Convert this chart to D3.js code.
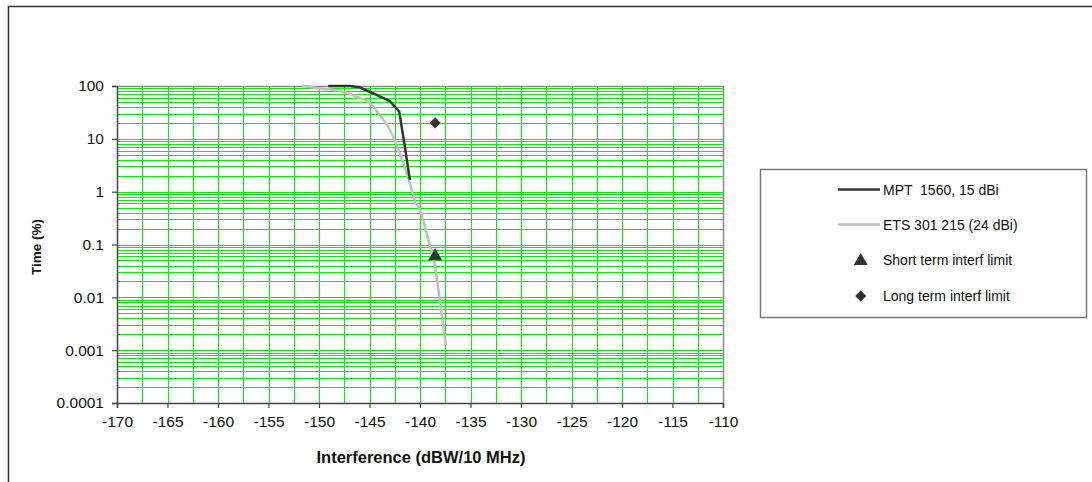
<!DOCTYPE html>
<html><head><meta charset="utf-8">
<script src="https://cdn.jsdelivr.net/npm/d3@7"></script>
<style>body{margin:0;background:#fff}svg{display:block;font-family:"Liberation Sans",Arial,sans-serif}</style>
</head><body>
<svg id="c" width="1092" height="482"></svg>
<script>
// ---- data ----
const xTicks = [-170,-165,-160,-155,-150,-145,-140,-135,-130,-125,-120,-115,-110];
const yTicks = [100,10,1,0.1,0.01,0.001,0.0001];
const yTickLabels = ["100","10","1","0.1","0.01","0.001","0.0001"];
const seriesNames = ["MPT  1560, 15 dBi","ETS 301 215 (24 dBi)","Short term interf limit","Long term interf limit"];
const mptX = [-149.1,-146.9,-146.0,-144.3,-143.0,-142.05,-141.5,-141.0];
const mptY = [100,100,94.5,68,52,32.6,7.1,1.66];
const etsX = [-151.6,-149.9,-147.6,-146.3,-144.95,-143.96,-142.97,-142.15,-141.3,-140.4,-140.0,-139.17,-138.5,-138.0,-137.45];
const etsY = [100,90,78,63,47,28,14.7,6.2,2.2,0.6,0.45,0.12,0.038,0.0078,0.00126];
const shortX = [-138.5], shortY = [0.06];
const longX = [-138.5], longY = [20];

const svg = d3.select("#c");
const L = 117, R = 723, T = 86, B = 403;
const x = d3.scaleLinear().domain([-170,-110]).range([L,R]);
const y = d3.scaleLog().domain([0.0001,100]).range([B,T]);

// outer chart border (right/bottom outside the view)
svg.append("rect").attr("x",8.5).attr("y",6.5).attr("width",1200).attr("height",600)
  .attr("fill","none").attr("stroke","#333").attr("stroke-width",1.5);

// gridlines
const g = svg.append("g");
const vgrid = d3.range(-167.5,-110,2.5);
g.selectAll(".vg").data(vgrid).join("line")
  .attr("x1",d=>Math.round(x(d))+0.5).attr("x2",d=>Math.round(x(d))+0.5)
  .attr("y1",T).attr("y2",B).attr("stroke","#00f000").attr("stroke-width",1.1);
const hgrid = [];
for (let e=-4;e<2;e++) for (let m=1;m<10;m++) hgrid.push(m*Math.pow(10,e));
g.selectAll(".hg").data(hgrid.filter(v=>v>0.0001&&v<100)).join("line")
  .attr("x1",L).attr("x2",R)
  .attr("y1",d=>Math.round(y(d))+0.5).attr("y2",d=>Math.round(y(d))+0.5)
  .attr("stroke","#00f000").attr("stroke-width",1.1);

// plot border top/right
svg.append("path").attr("d",`M${L},${T+0.5}H${R+0.5}V${B}`).attr("fill","none").attr("stroke","#888").attr("stroke-width",1.5);

// axes
const xAxis = d3.axisBottom(x).tickValues(xTicks).tickSize(5).tickFormat(d=>String(d));
const xa = svg.append("g").attr("transform",`translate(0,${B})`).call(xAxis);
const yAxis = d3.axisLeft(y).tickValues(yTicks).tickSize(5).tickFormat((d,i)=>yTickLabels[i]);
const ya = svg.append("g").attr("transform",`translate(${L},0)`).call(yAxis);
[xa,ya].forEach(a=>{
  a.select(".domain").attr("stroke","#444").attr("stroke-width",1.5);
  a.selectAll(".tick line").attr("stroke","#444").attr("stroke-width",1.2);
  a.selectAll("text").attr("fill","#111").style("font-size","15.5px").style("font-family","Liberation Sans, Arial, sans-serif");
});
xa.selectAll("text").attr("dy","1.05em");
ya.selectAll("text").attr("x",-13);

// axis titles
svg.append("text").attr("x",421).attr("y",463).attr("text-anchor","middle")
  .style("font-size","16.5px").style("font-weight","bold").attr("fill","#111").text("Interference (dBW/10 MHz)");
svg.append("text").attr("transform","translate(41,247) rotate(-90)").attr("text-anchor","middle")
  .style("font-size","13.5px").style("font-weight","bold").attr("fill","#111").text("Time (%)");

// lines
const line = d3.line().x(d=>x(d[0])).y(d=>y(d[1]));
svg.append("path").datum(etsX.map((v,i)=>[v,etsY[i]])).attr("d",line.curve(d3.curveMonotoneX))
  .attr("fill","none").attr("stroke","#c0c0c0").attr("stroke-width",2.5);
svg.append("path").datum(mptX.map((v,i)=>[v,mptY[i]])).attr("d",d3.line().x(d=>x(d[0])).y(d=>y(d[1])))
  .attr("fill","none").attr("stroke","#333").attr("stroke-width",2.5);

// markers
const tri = d3.symbol().type(d3.symbolTriangle).size(85);
const dia = d3.symbol().type(d3.symbolSquare).size(62);
svg.selectAll(".st").data(shortX.map((v,i)=>[v,shortY[i]])).join("path")
  .attr("d",tri).attr("transform",d=>`translate(${x(d[0])},${y(d[1])})`).attr("fill","#333");
svg.selectAll(".lt").data(longX.map((v,i)=>[v,longY[i]])).join("path")
  .attr("d",dia).attr("transform",d=>`translate(${x(d[0])},${y(d[1])}) rotate(45)`).attr("fill","#333");

// legend
const lg = svg.append("g");
lg.append("rect").attr("x",760.5).attr("y",169.5).attr("width",326).attr("height",148)
  .attr("fill","#fff").attr("stroke","#777").attr("stroke-width",1.5);
const ly = [189.5,224.5,260,296];
lg.append("line").attr("x1",838).attr("x2",880).attr("y1",ly[0]).attr("y2",ly[0]).attr("stroke","#333").attr("stroke-width",2.5);
lg.append("line").attr("x1",838).attr("x2",880).attr("y1",ly[1]).attr("y2",ly[1]).attr("stroke","#c0c0c0").attr("stroke-width",2.5);
lg.append("path").attr("d",tri).attr("transform",`translate(860.7,${ly[2]+1})`).attr("fill","#333");
lg.append("path").attr("d",dia).attr("transform",`translate(860.7,${ly[3]}) rotate(45)`).attr("fill","#333");
lg.selectAll(".lt").data(seriesNames).join("text")
  .attr("x",883).attr("y",(d,i)=>ly[i]).attr("dy","0.36em")
  .style("font-size","14px").attr("fill","#111").style("white-space","pre").text(d=>d);
</script>
</body></html>
